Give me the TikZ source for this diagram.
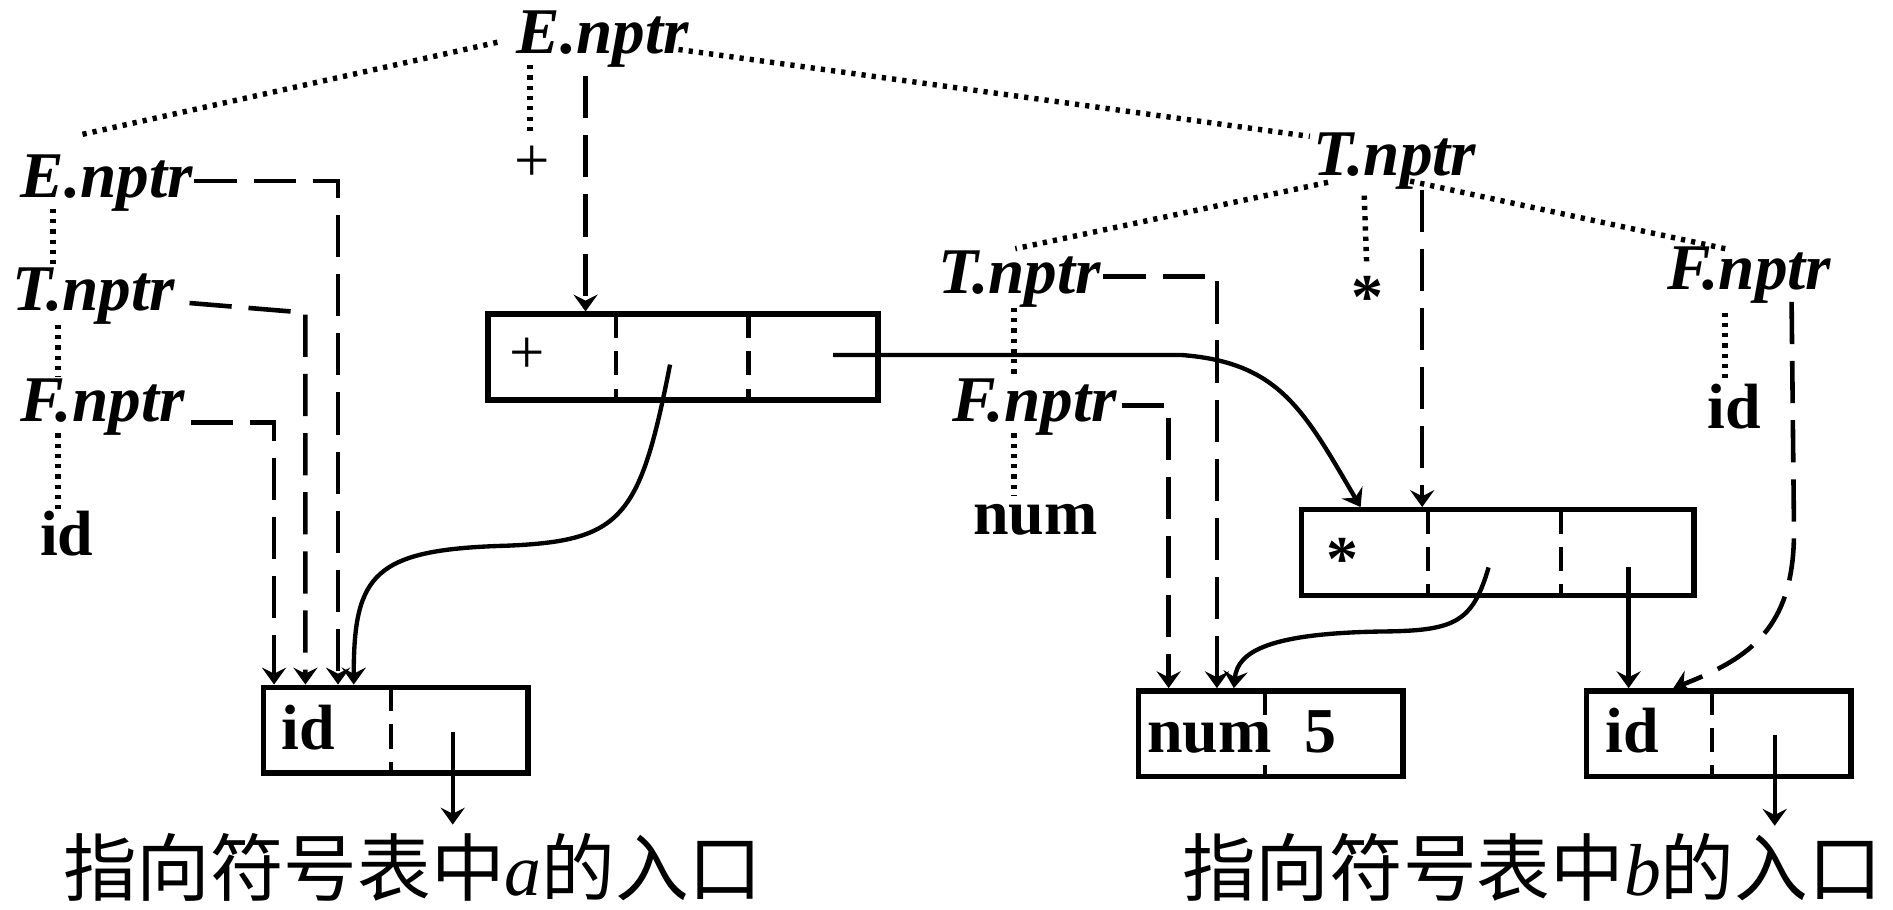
\documentclass[tikz,border=0pt]{standalone}
\usepackage{fontspec}
\setmainfont{Liberation Serif}
\newfontfamily\cjk{Noto Sans CJK SC}
\usetikzlibrary{arrows.meta}
\begin{document}
\begin{tikzpicture}[x=1pt,y=-1pt,
  lbl/.style={font=\fontsize{54}{60}\selectfont\bfseries\itshape, inner sep=0pt, anchor=base west},
  sym/.style={font=\fontsize{53}{60}\selectfont\bfseries, inner sep=0pt, anchor=base west},
  plainsym/.style={font=\fontsize{52}{60}\selectfont, inner sep=0pt},
  cjklbl/.style={font=\fontsize{61}{70}\selectfont\cjk, inner sep=0pt, anchor=base west},
  cell/.style={draw, line width=4.5pt, rectangle, minimum height=71pt, inner sep=0pt, anchor=north west},
  divider/.style={line width=3.5pt, dash pattern=on 20pt off 11pt},
  dotline/.style={line width=4.5pt, dash pattern=on 3.5pt off 5pt},
  dashline/.style={line width=3.8pt, dash pattern=on 35pt off 14pt},
  solidline/.style={line width=3.6pt},
  tip/.style={-{Stealth[length=14pt,width=20pt,inset=5pt]}}
]
\useasboundingbox (0,0) rectangle (1568,753);

% ---- labels (left tree)
\node[lbl] (Etop) at (428,44) {E.nptr};
\node[lbl] (Eleft) at (17,164) {E.nptr};
\node[lbl] (Tleft) at (10,257) {T.nptr};
\node[lbl] (Fleft) at (17,349) {F.nptr};
\node[sym] (idleft) at (33,460) {id};
\node[plainsym] (plustop) at (441,136) {+};

% ---- labels (right tree)
\node[lbl] (Tright) at (1088,145) {T.nptr};
\node[lbl] (Tsub) at (777,243) {T.nptr};
\node[lbl] (Fsub) at (789,349) {F.nptr};
\node[sym] (numsub) at (806,443) {num};
\node[sym, anchor=center] (startop) at (1133,246) {*};
\node[lbl] (Fright) at (1381,240) {F.nptr};
\node[sym] (idright) at (1414,355) {id};

% ---- boxes
\node[cell, minimum width=323pt] (bplus) at (402,258) {};
\node[cell, minimum width=325pt] (bstar) at (1076,420) {};
\node[cell, minimum width=219pt] (bid1) at (216,567) {};
\node[cell, minimum width=219pt] (bnum) at (941,570) {};
\node[cell, minimum width=219pt] (bid2) at (1312,570) {};

% box contents
\node[plainsym] (pluscell) at (437,295) {+};
\node[sym, anchor=center] (starcell) at (1112,463) {*};
\node[sym] (idcell1) at (233,621) {id};
\node[sym] (numcell) at (950,623) {num};
\node[sym] (fivecell) at (1080,623) {5};
\node[sym] (idcell2) at (1330,623) {id};

% dividers
\draw[divider] (510,260) -- (510,332);
\draw[divider] (620,260) -- (620,332);
\draw[divider] (1183,422) -- (1183,494);
\draw[divider] (1293,422) -- (1293,494);
\draw[divider] (324,569) -- (324,641);
\draw[divider] (1048,572) -- (1048,644);
\draw[divider] (1418,572) -- (1418,644);

% ---- bottom texts
\node[cjklbl] (txta) at (52,742) {指向符号表中{\rmfamily\itshape a}的入口};
\node[cjklbl] (txtb) at (979,742) {指向符号表中{\rmfamily\itshape b}的入口};

% ---- dotted tree edges
\draw[dotline] (412,35) -- (65,112);
\draw[dotline] (562,41) -- (1085,113);
\draw[dotline] (439,54) -- (439,109);
\draw[dotline] (44,173) -- (44,221);
\draw[dotline] (48,269) -- (48,312);
\draw[dotline] (48,359) -- (48,424);
\draw[dotline] (1100,151) -- (841,206);
\draw[dotline] (1130,162) -- (1132,218);
\draw[dotline] (1168,150) -- (1429,206);
\draw[dotline] (1429,259) -- (1429,313);
\draw[dotline] (840,255) -- (840,312);
\draw[dotline] (840,359) -- (840,411);

% ---- dashed pointers
\draw[dashline, tip] (485,63) -- (485,258);
\draw[dashline, tip] (161,150) -- (280,150) -- (280,567);
\draw[dashline, tip] (157,251) -- (253,259) -- (253,567);
\draw[dashline, tip] (158,350) -- (227,350) -- (227,567);
\draw[dashline, tip] (1178,157) -- (1178,420);
\draw[dashline, tip] (914,229) -- (1008,229) -- (1008,570);
\draw[dashline, tip] (929,336) -- (968,336) -- (968,570);
\draw[dashline, tip] (1484,250) -- (1486,440) .. controls (1486,520) and (1450,545) .. (1386,570);

% ---- solid pointers
\draw[solidline, tip] (555,302) .. controls (530,430) and (515,448) .. (420,452) .. controls (310,455) and (293,475) .. (293,567);
\draw[solidline, tip] (690,294) -- (978,294) .. controls (1060,300) and (1080,340) .. (1127,420);
\draw[solidline, tip] (1233,470) .. controls (1220,515) and (1205,522) .. (1150,523) .. controls (1050,524) and (1025,540) .. (1022,570);
\draw[solidline, tip] (1349,470) -- (1349,570);
\draw[solidline, tip] (375,606) -- (375,683);
\draw[solidline, tip] (1470,609) -- (1470,684);
\end{tikzpicture}
\end{document}
